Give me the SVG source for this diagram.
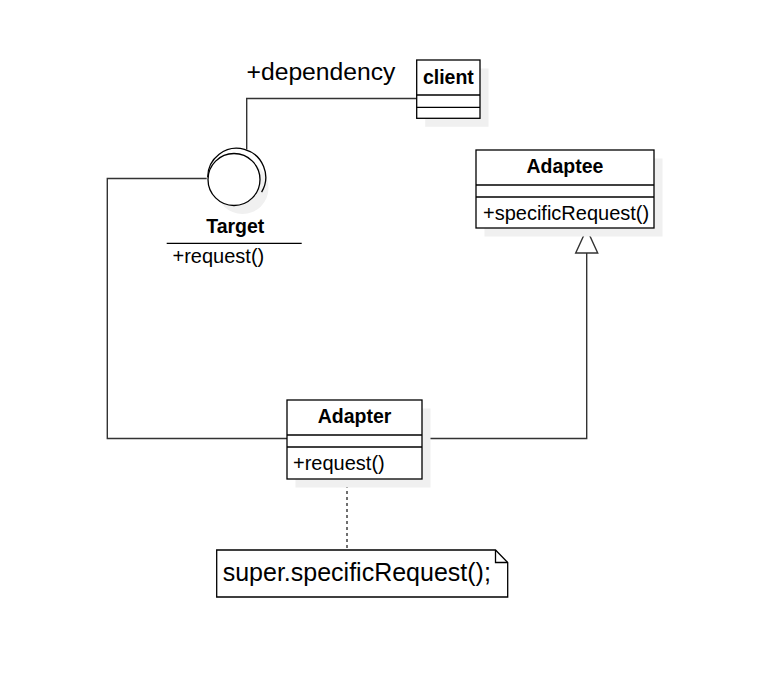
<svg xmlns="http://www.w3.org/2000/svg" width="766" height="696" viewBox="0 0 766 696">
  <style>
    .box { fill: #ffffff; stroke: #000000; stroke-width: 1.3; }
    .sep { stroke: #000000; stroke-width: 1.3; fill: none; }
    .shadow { fill: #f0f0f0; stroke: none; }
    .conn { fill: none; stroke: #333333; stroke-width: 1.4; }
    .title { font-family: "Liberation Sans", Arial, Helvetica, sans-serif; font-size: 19.5px; font-weight: bold; fill: #000000; text-anchor: middle; }
    .member { font-family: "Liberation Sans", Arial, Helvetica, sans-serif; font-size: 20px; fill: #000000; }
    .label { font-family: "Liberation Sans", Arial, Helvetica, sans-serif; font-size: 24.7px; fill: #000000; }
    .notetext { font-family: "Liberation Sans", Arial, Helvetica, sans-serif; font-size: 25px; fill: #000000; }
  </style>
  <rect width="766" height="696" fill="#ffffff"/>

  <g id="connectors">
    <polyline class="conn" points="416.7,98.5 246.7,98.5 246.7,149.5"/>
    <text class="label" x="246.5" y="80">+dependency</text>
    <polyline class="conn" points="206.7,178.5 107.3,178.5 107.3,438.5 287,438.5"/>
    <polyline class="conn" points="422,438.5 586.7,438.5 586.7,253"/>
    <polygon points="586.7,229 575.7,253 597.7,253" fill="#ffffff" stroke="#333333" stroke-width="1.4"/>
    <line class="conn" x1="347" y1="479" x2="347" y2="550" stroke-dasharray="3 3"/>
  </g>

  <g id="client">
    <rect class="shadow" x="425.2" y="68.5" width="63.3" height="58.3"/>
    <rect class="box" x="416.7" y="60" width="63.3" height="58.3"/>
    <line class="sep" x1="416.7" y1="95" x2="480" y2="95"/>
    <line class="sep" x1="416.7" y1="107.3" x2="480" y2="107.3"/>
    <text class="title" x="448.4" y="84.3">client</text>
  </g>

  <g id="target">
    <circle class="shadow" cx="242.5" cy="188" r="26"/>
    <circle cx="234" cy="179.5" r="26" fill="#ffffff" stroke="#000000" stroke-width="1.3"/>
    <path d="M207.7,177.3 A29,29 0 1 1 261.6,192.2" fill="none" stroke="#000000" stroke-width="1.3"/>
    <text class="title" x="235.3" y="233">Target</text>
    <line class="sep" x1="166.7" y1="243.3" x2="301.7" y2="243.3" stroke="#333333"/>
    <text class="member" x="172.5" y="262.5">+request()</text>
  </g>

  <g id="adaptee">
    <rect class="shadow" x="484.5" y="158.5" width="178" height="78"/>
    <rect class="box" x="476" y="150" width="178" height="78"/>
    <line class="sep" x1="476" y1="185" x2="654" y2="185"/>
    <line class="sep" x1="476" y1="197" x2="654" y2="197"/>
    <text class="title" x="565" y="173.3">Adaptee</text>
    <text class="member" x="483" y="220">+specificRequest()</text>
  </g>

  <g id="adapter">
    <rect class="shadow" x="295.5" y="408.5" width="135" height="79"/>
    <rect class="box" x="287" y="400" width="135" height="79"/>
    <line class="sep" x1="287" y1="435" x2="422" y2="435"/>
    <line class="sep" x1="287" y1="447" x2="422" y2="447"/>
    <text class="title" x="354.5" y="423.3">Adapter</text>
    <text class="member" x="293" y="470">+request()</text>
  </g>

  <g id="note">
    <path class="box" d="M216.7,550 L495.5,550 L507.7,562.5 L507.7,597 L216.7,597 Z"/>
    <path d="M495.5,550 L495.5,562.5 L507.7,562.5" fill="none" stroke="#000000" stroke-width="1.3"/>
    <text class="notetext" x="222.7" y="581">super.specificRequest();</text>
  </g>
</svg>
